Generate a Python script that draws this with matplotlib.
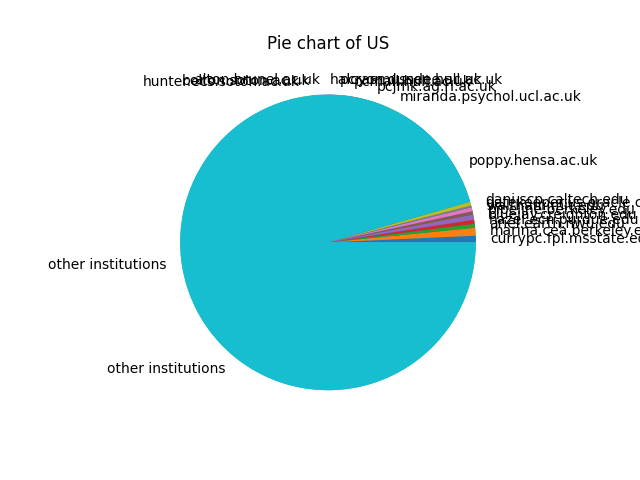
import matplotlib

matplotlib.use("Agg")

import matplotlib.pyplot as plt


# hosts from the UK pie (drawn first, mostly hidden under the US pie)
uk_hosts = [
    "poppy.hensa.ac.uk",
    "miranda.psychol.ucl.ac.uk",
    "pcjmk.ag.rl.ac.uk",
    "pcmail.hull.ac.uk",
    "pcrasmussen.hull.ac.uk",
    "halcyon.dundee.ac.uk",
    "alton.brunel.ac.uk",
    "bolton.soton.ac.uk",
    "hunter.ecs.soton.ac.uk",
    "other institutions"
]

uk_share = [16.6, 2.2, 2.8, 1.7, 1.1, 0.8, 1.1, 0.8, 1.3, 71.6]

# hosts from the US pie (drawn last, visible)
us_hosts = [
    "currypc.fpl.msstate.edu",
    "marina.cea.berkeley.edu",
    "ariel.earth.nwu.edu",
    "hazel.ecn.purdue.edu",
    "bluejay.creighton.edu",
    "pipeline.berkeley.edu",
    "waltham.mit.edu",
    "gatekeeper.us.oracle.com",
    "dani.scp.caltech.edu",
    "other institutions"
]

us_share = [0.72, 0.86, 0.44, 0.44, 0.56, 0.36, 0.44, 0.20, 0.42, 95.56]


def create_chart():
    plt.figure(figsize=(6.4, 4.8), dpi=100)

    plt.pie(uk_share, labels=uk_hosts)
    plt.pie(us_share, labels=us_hosts)

    plt.title("Pie chart of US")

    plt.savefig("out.png")
    plt.close()


if __name__ == "__main__":
    create_chart()
